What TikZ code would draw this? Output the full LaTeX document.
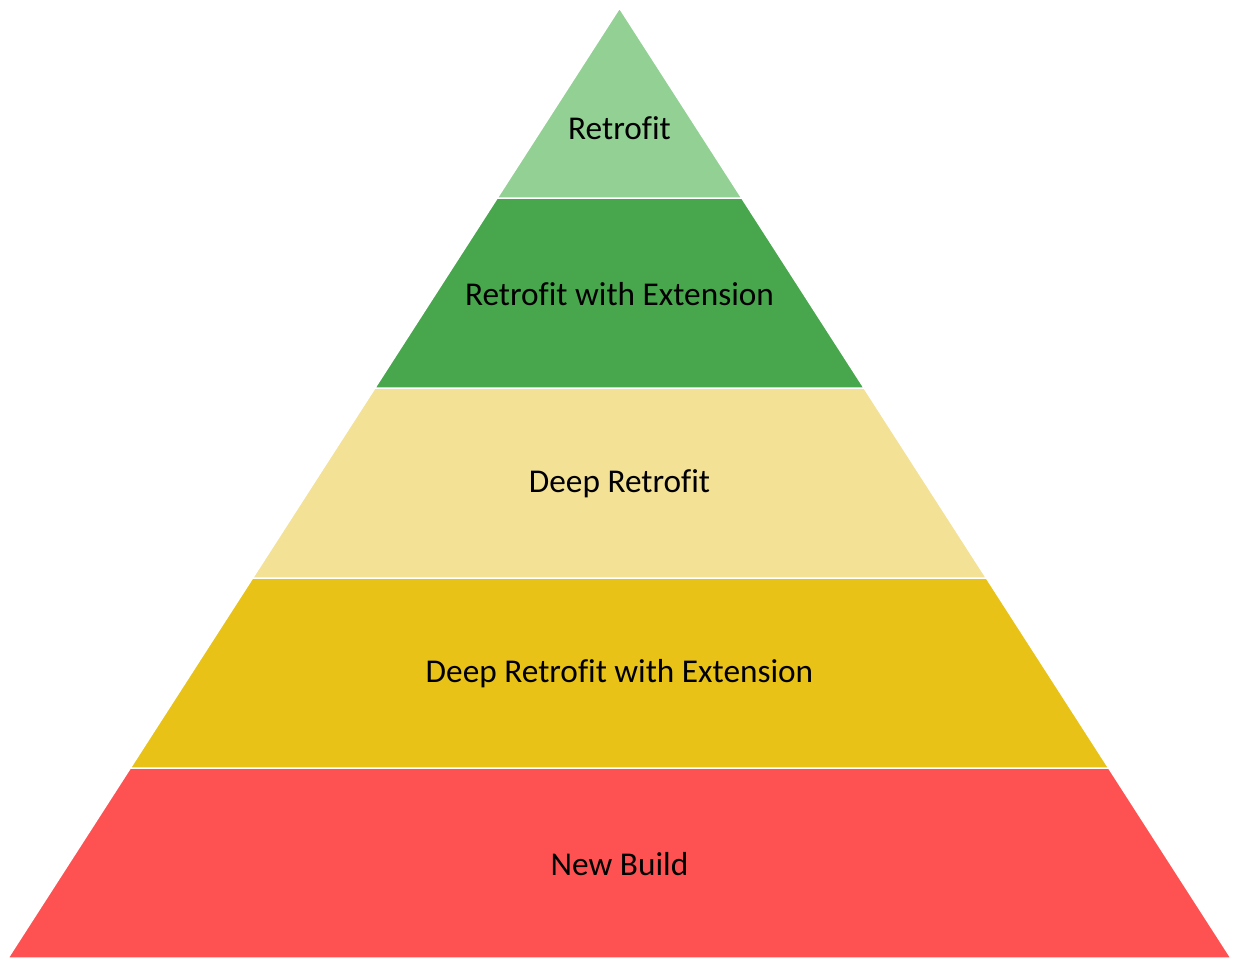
\documentclass[tikz,border=0pt]{standalone}
\usepackage{fontspec}
\setmainfont[Ligatures=NoCommon]{Carlito}
\definecolor{lgreen}{HTML}{92D093}
\definecolor{dgreen}{HTML}{48A64D}
\definecolor{pyellow}{HTML}{F3E196}
\definecolor{gold}{HTML}{E8C217}
\definecolor{red1}{HTML}{FE5252}
\tikzset{
  layer/.style={draw=white, line width=1.5bp, line join=miter},
  lbl/.style={font=\fontsize{33.4}{40}\selectfont, text=black, inner sep=0pt}
}
\begin{document}
\begin{tikzpicture}[x=1bp,y=-1bp]
\useasboundingbox (0,0) rectangle (1235,960);
\fill[white] (0,0) rectangle (1235,960);
\def\cx{619.5}
\fill[layer, fill=red1] (\cx-489.2,768) -- (\cx+489.2,768) -- (\cx+611.5,958) -- (\cx-611.5,958) -- cycle;
\fill[layer, fill=gold] (\cx-366.9,578) -- (\cx+366.9,578) -- (\cx+489.2,768) -- (\cx-489.2,768) -- cycle;
\fill[layer, fill=pyellow] (\cx-244.6,388) -- (\cx+244.6,388) -- (\cx+366.9,578) -- (\cx-366.9,578) -- cycle;
\fill[layer, fill=dgreen] (\cx-122.3,198) -- (\cx+122.3,198) -- (\cx+244.6,388) -- (\cx-244.6,388) -- cycle;
\fill[layer, fill=lgreen] (\cx,8) -- (\cx+122.3,198) -- (\cx-122.3,198) -- cycle;
\node[lbl] (l1) at (\cx,128) {Retrofit};
\node[lbl] (l2) at (\cx,294) {Retrofit with Extension};
\node[lbl] (l3) at (\cx,484) {Deep Retrofit};
\node[lbl] (l4) at (\cx,674) {Deep Retrofit with Extension};
\node[lbl] (l5) at (\cx,864) {New Build};
\end{tikzpicture}
\end{document}
